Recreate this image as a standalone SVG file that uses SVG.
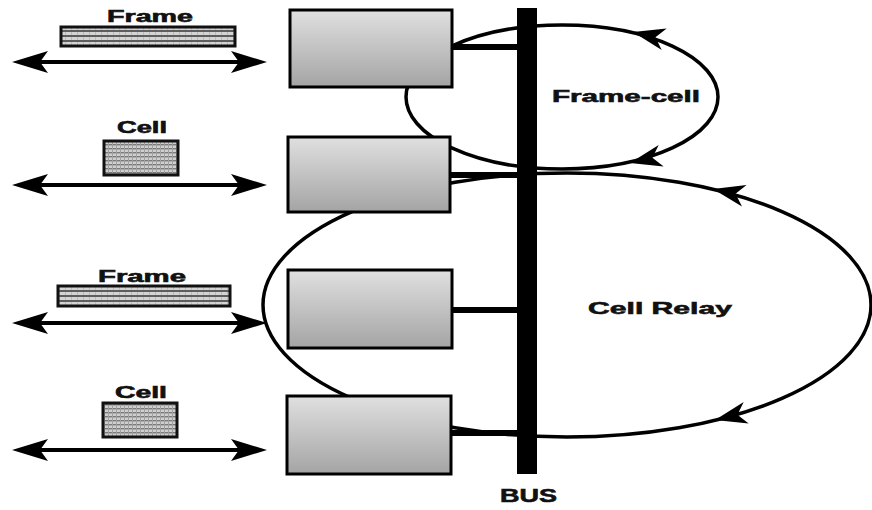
<svg xmlns="http://www.w3.org/2000/svg" width="872" height="510" viewBox="0 0 872 510">
<defs>
<linearGradient id="boxg" x1="0" y1="0" x2="0" y2="1">
<stop offset="0" stop-color="#e0e0e0"/>
<stop offset="1" stop-color="#a4a4a4"/>
</linearGradient>
<pattern id="stripes" width="6" height="5" patternUnits="userSpaceOnUse">
<rect width="6" height="5" fill="#d4d4d4"/>
<rect y="0" width="6" height="2" fill="#5e5e5e"/>
<rect x="5" y="2" width="1" height="3" fill="#bcbcbc"/>
</pattern>
<pattern id="grid" width="4" height="4" patternUnits="userSpaceOnUse">
<rect width="4" height="4" fill="#cfcfcf"/>
<rect width="4" height="1.4" fill="#7a7a7a"/>
<rect width="1" height="4" fill="#a0a0a0"/>
</pattern>
<path id="ah" d="M0,0 L-32,-11 L-23,0 L-32,11 Z"/>
<path id="lah" d="M0,0 L-36,-11 L-28,0 L-36,11 Z"/>
</defs>
<style>
.loop{fill:none;stroke:#000;stroke-width:3.5}
.stub{stroke:#000;stroke-width:6}
.dbl{stroke:#000;stroke-width:4}
.box{fill:url(#boxg);stroke:#000;stroke-width:3}
.lbl{font-family:"Liberation Sans",Arial,sans-serif;font-weight:bold;fill:#111;stroke:#111;stroke-width:0.6}
.frame{fill:url(#stripes);stroke:#111;stroke-width:3}
.cell{fill:url(#grid);stroke:#111;stroke-width:3}
</style>
<rect width="872" height="510" fill="#fff"/>
<g id="connectors">
<ellipse class="loop" cx="562" cy="97" rx="156" ry="72"/>
<ellipse class="loop" cx="567" cy="305" rx="304" ry="132"/>
<use href="#ah" transform="translate(633,32) rotate(193)"/>
<use href="#ah" transform="translate(630,163) rotate(167)"/>
<use href="#ah" transform="translate(713,189) rotate(192)"/>
<use href="#ah" transform="translate(715,420) rotate(167)"/>
<line class="stub" x1="452" y1="47" x2="520" y2="47"/>
<line class="stub" x1="450" y1="175" x2="520" y2="175"/>
<line class="stub" x1="452" y1="310" x2="520" y2="310"/>
<line class="stub" x1="451" y1="433" x2="520" y2="433"/>
<g id="arrows-left">
<line class="dbl" x1="30" y1="62" x2="250" y2="62"/>
<use href="#lah" transform="translate(267,62)"/>
<use href="#lah" transform="translate(12,62) rotate(180)"/>
<line class="dbl" x1="30" y1="185" x2="250" y2="185"/>
<use href="#lah" transform="translate(267,185)"/>
<use href="#lah" transform="translate(12,185) rotate(180)"/>
<line class="dbl" x1="30" y1="323" x2="250" y2="323"/>
<use href="#lah" transform="translate(267,323)"/>
<use href="#lah" transform="translate(12,323) rotate(180)"/>
<line class="dbl" x1="30" y1="450" x2="250" y2="450"/>
<use href="#lah" transform="translate(267,450)"/>
<use href="#lah" transform="translate(12,450) rotate(180)"/>
</g>
</g>
<g id="node-box1"><rect class="box" x="290" y="10" width="162" height="77"/></g>
<g id="node-box2"><rect class="box" x="288" y="137" width="162" height="75"/></g>
<g id="node-box3"><rect class="box" x="288" y="270" width="164" height="78"/></g>
<g id="node-box4"><rect class="box" x="287" y="396" width="164" height="78"/></g>
<g id="node-bus">
<rect x="517" y="8" width="20" height="466" fill="#000"/>
<text class="lbl" x="500" y="502" font-size="19" textLength="57" lengthAdjust="spacingAndGlyphs">BUS</text>
</g>
<g id="node-frame1">
<rect class="frame" x="61" y="27" width="174" height="19"/>
<text class="lbl" x="107" y="22" font-size="16" textLength="86" lengthAdjust="spacingAndGlyphs">Frame</text>
</g>
<g id="node-cell1">
<rect class="cell" x="104" y="141" width="74" height="34"/>
<text class="lbl" x="117" y="133" font-size="16" textLength="50" lengthAdjust="spacingAndGlyphs">Cell</text>
</g>
<g id="node-frame2">
<rect class="frame" x="58" y="286" width="172" height="20"/>
<text class="lbl" x="98" y="282" font-size="16" textLength="88" lengthAdjust="spacingAndGlyphs">Frame</text>
</g>
<g id="node-cell2">
<rect class="cell" x="103" y="403" width="74" height="34"/>
<text class="lbl" x="115" y="398" font-size="16" textLength="52" lengthAdjust="spacingAndGlyphs">Cell</text>
</g>
<g id="label-framecell">
<text class="lbl" x="552" y="102" font-size="17" textLength="148" lengthAdjust="spacingAndGlyphs">Frame-cell</text>
</g>
<g id="label-cellrelay">
<text class="lbl" x="588" y="314" font-size="17" textLength="144" lengthAdjust="spacingAndGlyphs">Cell Relay</text>
</g>
</svg>
